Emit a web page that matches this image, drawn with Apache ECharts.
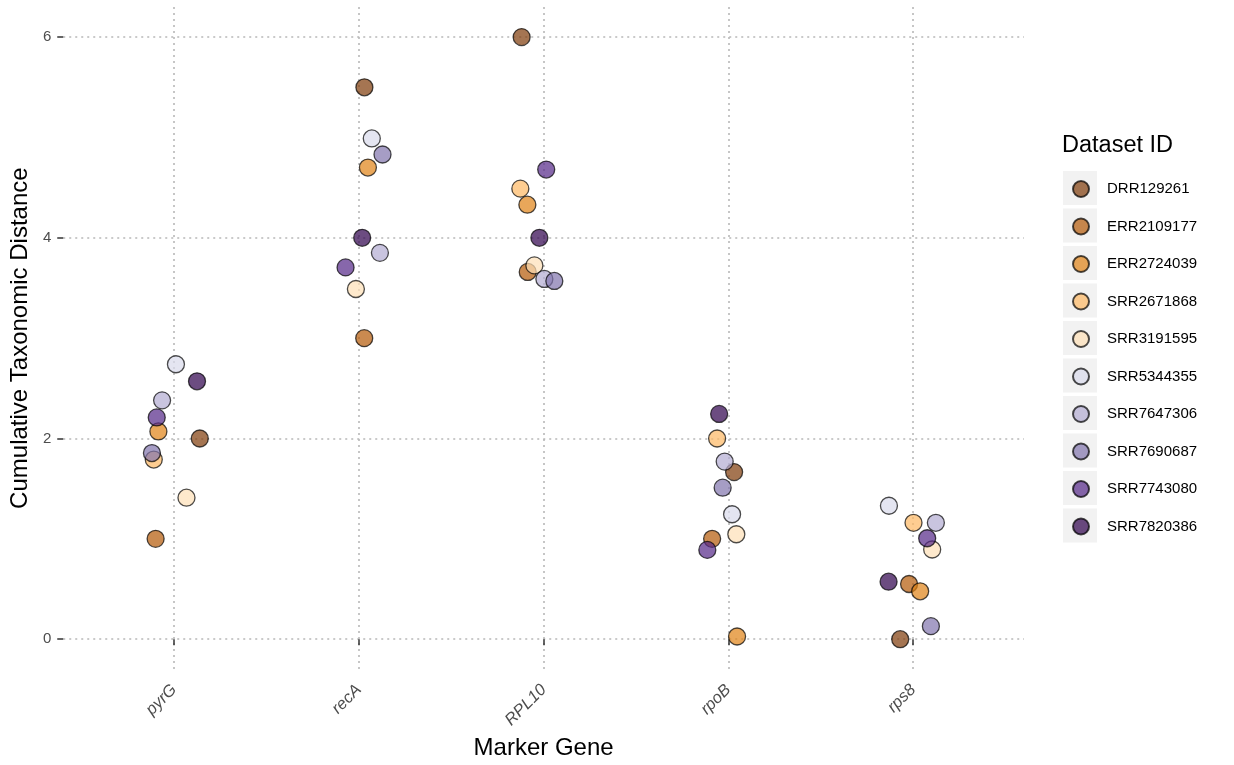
<!DOCTYPE html>
<html>
<head>
<meta charset="utf-8">
<script src="https://cdn.jsdelivr.net/npm/echarts@6/dist/echarts.min.js"></script>
<style>html,body{margin:0;padding:0;background:#fff}#c{width:1234px;height:765px}</style>
</head>
<body>
<div id="c"></div>
<script>
// Categories (marker genes) and dataset ids
var genes = ['pyrG', 'recA', 'RPL10', 'rpoB', 'rps8'];
var datasetIds = ['DRR129261', 'ERR2109177', 'ERR2724039', 'SRR2671868', 'SRR3191595',
                  'SRR5344355', 'SRR7647306', 'SRR7690687', 'SRR7743080', 'SRR7820386'];
var palette = ['#7f3b08', '#b35806', '#e08214', '#fdb863', '#fee0b6',
               '#d8daeb', '#b2abd2', '#8073ac', '#542788', '#2d004b'];
var yTicks = [0, 2, 4, 6];

// Cumulative taxonomic distance per gene, in datasetIds order
var pyrG  = [2.0, 1.0, 2.07, 1.79, 1.41, 2.74, 2.38, 1.855, 2.21, 2.57];
var recA  = [5.5, 3.0, 4.7, null, 3.49, 4.99, 3.85, 4.83, 3.705, 4.0];
var RPL10 = [6.0, 3.66, 4.33, 4.49, 3.725, null, 3.59, 3.57, 4.68, 4.0];
var rpoB  = [1.665, 1.0, 0.027, 2.0, 1.046, 1.245, 1.77, 1.51, 0.89, 2.245];
var rps8  = [0.0, 0.55, 0.477, 1.16, 0.894, 1.33, 1.16, 0.13, 1.006, 0.573];

// Horizontal jitter (category units)
var pyrGJit  = [0.139, -0.10, -0.085, -0.11, 0.067, 0.01, -0.065, -0.12, -0.094, 0.124];
var recAJit  = [0.03, 0.029, 0.049, 0, -0.016, 0.07, 0.114, 0.128, -0.072, 0.018];
var RPL10Jit = [-0.119, -0.086, -0.088, -0.126, -0.05, 0, 0.004, 0.058, 0.014, -0.023];
var rpoBJit  = [0.031, -0.088, 0.047, -0.061, 0.043, 0.02, -0.02, -0.031, -0.114, -0.05];
var rps8Jit  = [-0.07, -0.022, 0.038, 0.002, 0.103, -0.131, 0.123, 0.096, 0.076, -0.133];

var values = [pyrG, recA, RPL10, rpoB, rps8];
var jitters = [pyrGJit, recAJit, RPL10Jit, rpoBJit, rps8Jit];

var series = datasetIds.map(function (id, d) {
  var data = [];
  for (var g = 0; g < genes.length; g++) {
    if (values[g][d] !== null) data.push([g + 1 + jitters[g][d], values[g][d]]);
  }
  return {
    name: id, type: 'scatter', data: data, symbol: 'circle', symbolSize: 17,
    itemStyle: { color: palette[d], opacity: 0.7, borderColor: '#000', borderWidth: 1.3 },
    emphasis: { disabled: true }
  };
});

var FONT = '"Liberation Sans", Arial, sans-serif';
var gridLine = { show: true, lineStyle: { color: '#b8b8b8', width: 1.6, type: [2, 4] } };

var legendTop = 180, legendPitch = 37.5;
var boxes = datasetIds.map(function (id, i) {
  return { type: 'rect', left: 1063, top: legendTop + i * legendPitch - 9, z: -1,
           shape: { width: 34, height: 34 }, style: { fill: '#f2f2f2' } };
});
boxes.push({ type: 'text', left: 1062, top: 134, style: { text: 'Dataset ID', font: '23.5px ' + FONT, fill: '#000' } });

var chart = echarts.init(document.getElementById('c'), null, { renderer: 'canvas' });
chart.setOption({
  animation: false,
  backgroundColor: '#fff',
  grid: { left: 62, right: 210, top: 7, bottom: 94 },
  xAxis: {
    type: 'value', min: 0.4, max: 5.6,
    name: 'Marker Gene', nameLocation: 'middle', nameGap: 64,
    nameTextStyle: { fontFamily: FONT, fontSize: 24, color: '#000' },
    axisLine: { show: false },
    axisTick: { show: true, customValues: [1, 2, 3, 4, 5], length: 6, lineStyle: { color: '#333', width: 1.5 } },
    axisLabel: { customValues: [1, 2, 3, 4, 5], rotate: 45, margin: 18, fontFamily: FONT, fontSize: 16.5,
                 fontStyle: 'italic', color: '#4d4d4d',
                 formatter: function (v) { return genes[Math.round(v) - 1]; } },
    splitLine: gridLine
  },
  yAxis: {
    type: 'value', min: -0.3, max: 6.3,
    name: 'Cumulative Taxonomic Distance', nameLocation: 'middle', nameGap: 30,
    nameTextStyle: { fontFamily: FONT, fontSize: 24, color: '#000' },
    axisLine: { show: false },
    axisTick: { show: true, customValues: yTicks, length: 6, lineStyle: { color: '#333', width: 1.5 } },
    axisLabel: { customValues: yTicks, margin: 12, fontFamily: FONT, fontSize: 15, color: '#4d4d4d' },
    splitLine: gridLine
  },
  legend: {
    orient: 'vertical', left: 1072, top: legendTop, itemWidth: 16, itemHeight: 16, itemGap: 19.5,
    icon: 'circle', padding: 0, data: datasetIds,
    textStyle: { fontFamily: FONT, fontSize: 15, color: '#000', lineHeight: 16, padding: [0, 0, 0, 13] }
  },
  graphic: boxes,
  series: series
});
</script>
</body>
</html>
